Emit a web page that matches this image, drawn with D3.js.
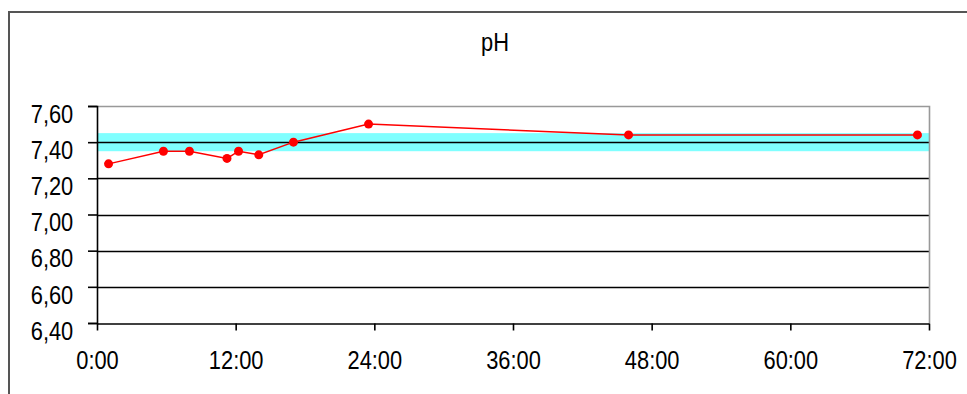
<!DOCTYPE html>
<html>
<head>
<meta charset="utf-8">
<script src="https://cdn.jsdelivr.net/npm/d3@7"></script>
<style>
  html, body { margin: 0; padding: 0; background: #ffffff; }
  svg { display: block; }
  text { font-family: "Liberation Sans", Arial, sans-serif; fill: #000; }
</style>
</head>
<body>
<script>
// Measurement times (hours after start) and pH readings
const hours = [1, 5.75, 8, 11.25, 12.25, 14, 17, 23.5, 46, 71];
const phValues = [7.28, 7.35, 7.35, 7.31, 7.35, 7.33, 7.40, 7.50, 7.44, 7.44];

// Normal range shown as a shaded band
const normalRange = [7.35, 7.45];

// Axis ticks
const xTicks = [0, 12, 24, 36, 48, 60, 72];
const yTicks = [6.4, 6.6, 6.8, 7.0, 7.2, 7.4, 7.6];
const title = "pH";

const W = 967, H = 394;
const plot = { left: 97, right: 929, top: 106, bottom: 323 };
// Labels are drawn slightly tall and narrow
const textStretch = "scale(0.95,1.1)";

const svg = d3.select("body").append("svg")
  .attr("width", W).attr("height", H);

// Outer chart frame (runs off the right and bottom edges)
svg.append("rect")
  .attr("x", 9).attr("y", 12)
  .attr("width", W + 20).attr("height", H + 20)
  .attr("fill", "#fff")
  .attr("stroke", "#555").attr("stroke-width", 2);

const x = d3.scaleLinear().domain([0, 72]).range([plot.left, plot.right]);
const y = d3.scaleLinear().domain([6.4, 7.6]).range([plot.bottom, plot.top]);

// Normal range band
svg.append("rect")
  .attr("x", x(0))
  .attr("y", y(normalRange[1]))
  .attr("width", x(72) - x(0))
  .attr("height", y(normalRange[0]) - y(normalRange[1]))
  .attr("fill", "#80ffff");

// Horizontal gridlines
svg.append("g").selectAll("line")
  .data(yTicks.filter(v => v > 6.4 && v < 7.6))
  .join("line")
  .attr("x1", x(0)).attr("x2", x(72))
  .attr("y1", d => Math.round(y(d)) + 0.5).attr("y2", d => Math.round(y(d)) + 0.5)
  .attr("stroke", "#000").attr("stroke-width", 1.6);

// Plot area border on top and right
svg.append("path")
  .attr("d", `M${x(0)},${Math.round(y(7.6)) + 0.5}H${x(72) + 0.5}V${y(6.4)}`)
  .attr("fill", "none").attr("stroke", "#999").attr("stroke-width", 1.6);

// Y axis
const yAxis = d3.axisLeft(y)
  .tickValues(yTicks)
  .tickSize(9)
  .tickPadding(0)
  .tickFormat(d => d3.format(".2f")(d).replace(".", ","));
const gy = svg.append("g")
  .attr("transform", `translate(${x(0)},0)`)
  .call(yAxis);
gy.select(".domain").attr("stroke", "#000").attr("stroke-width", 1.6);
gy.selectAll(".tick line").attr("stroke", "#000").attr("stroke-width", 1.6);
gy.selectAll(".tick text")
  .attr("x", -25)
  .attr("font-size", 23)
  .attr("dy", "0.64em")
  .attr("transform", textStretch)
  .attr("font-family", "Liberation Sans, Arial, sans-serif")
  .attr("fill", "#222");

// X axis
const xAxis = d3.axisBottom(x)
  .tickValues(xTicks)
  .tickSize(7)
  .tickSizeOuter(0)
  .tickPadding(0)
  .tickFormat(d => `${d}:00`);
const gx = svg.append("g")
  .attr("transform", `translate(0,${Math.round(y(6.4)) + 0.5})`)
  .call(xAxis);
gx.select(".domain").attr("stroke", "#000").attr("stroke-width", 1.6);
gx.selectAll(".tick line").attr("stroke", "#000").attr("stroke-width", 1.6);
gx.selectAll(".tick text")
  .attr("y", 25)
  .attr("font-size", 23)
  .attr("transform", textStretch)
  .attr("font-family", "Liberation Sans, Arial, sans-serif")
  .attr("fill", "#222");

// pH series
const pts = hours.map((h, i) => [h, phValues[i]]);
svg.append("path")
  .datum(pts)
  .attr("d", d3.line().x(d => x(d[0])).y(d => y(d[1])))
  .attr("fill", "none")
  .attr("stroke", "#ff0000")
  .attr("stroke-width", 1.5);

svg.append("g").selectAll("circle")
  .data(pts)
  .join("circle")
  .attr("cx", d => x(d[0]))
  .attr("cy", d => y(d[1]))
  .attr("r", 4.5)
  .attr("fill", "#ff0000");

// Title
svg.append("text")
  .attr("transform", `translate(495,51) ${textStretch}`)
  .attr("text-anchor", "middle")
  .attr("font-size", 23)
  .attr("fill", "#222")
  .text(title);
</script>
</body>
</html>
